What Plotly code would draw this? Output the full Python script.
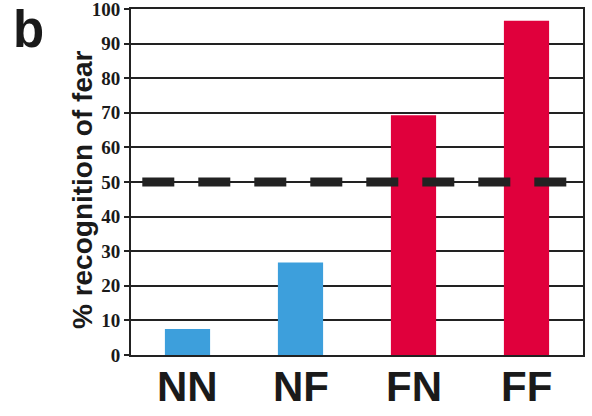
import plotly.graph_objects as go

# Recognition of fear per condition
categories = ["NN", "NF", "FN", "FF"]
values = [7.5, 26.7, 69.3, 96.6]
bar_colors = ["#3d9fdc", "#3d9fdc", "#e0003c", "#e0003c"]
chance_level = 50
y_ticks = [0, 10, 20, 30, 40, 50, 60, 70, 80, 90, 100]

fig = go.Figure()
fig.add_trace(go.Bar(
    x=categories, y=values, marker=dict(color=bar_colors, line=dict(width=0)),
    width=0.4, showlegend=False,
))

# thick dashed chance line
fig.add_shape(type="line", xref="x", yref="y", x0=-0.4, x1=3.39,
              y0=chance_level, y1=chance_level,
              line=dict(color="#222222", width=9, dash="32px,24px"), layer="above")

# large category labels under the bars
cat_labels = [
    dict(text=c, xref="x", yref="paper", x=c, y=-0.092, showarrow=False,
         xanchor="center", yanchor="middle",
         font=dict(family="Liberation Sans, Arial", size=42, color="#1a1a1a", weight="bold"))
    for c in categories
]

fig.update_layout(
    width=592, height=416,
    margin=dict(l=131, r=9, t=9, b=61),
    paper_bgcolor="white", plot_bgcolor="white",
    bargap=0.6,
    xaxis=dict(
        range=[-0.5, 3.5], showgrid=False, showline=True, linecolor="#222",
        linewidth=2, mirror=True, ticks="", showticklabels=False, automargin=False,
    ),
    yaxis=dict(
        range=[0, 100], tickvals=y_ticks, showgrid=True, gridcolor="#222",
        gridwidth=1.5, showline=True, linecolor="#222", linewidth=2, mirror=True,
        ticks="outside", ticklen=5, tickcolor="#222", tickwidth=1.5, automargin=False,
        ticklabeloverflow="allow", ticklabelstandoff=0,
        tickfont=dict(family="Liberation Serif, Times New Roman", size=19, color="#1a1a1a", weight="bold"),
        zeroline=False,
    ),
    annotations=cat_labels + [
        dict(text="% recognition of fear", textangle=-90, xref="paper", yref="paper",
             x=-0.106, y=0.477, showarrow=False, xanchor="center", yanchor="middle",
             font=dict(family="Liberation Sans, Arial", size=28, color="#1a1a1a", weight="bold")),
        dict(text="b", xref="paper", yref="paper", x=-0.266, y=1.03,
             showarrow=False, xanchor="left", yanchor="top",
             font=dict(family="Liberation Sans, Arial", size=51, color="#1a1a1a", weight="bold")),
    ],
)

fig.write_html("out.html")
